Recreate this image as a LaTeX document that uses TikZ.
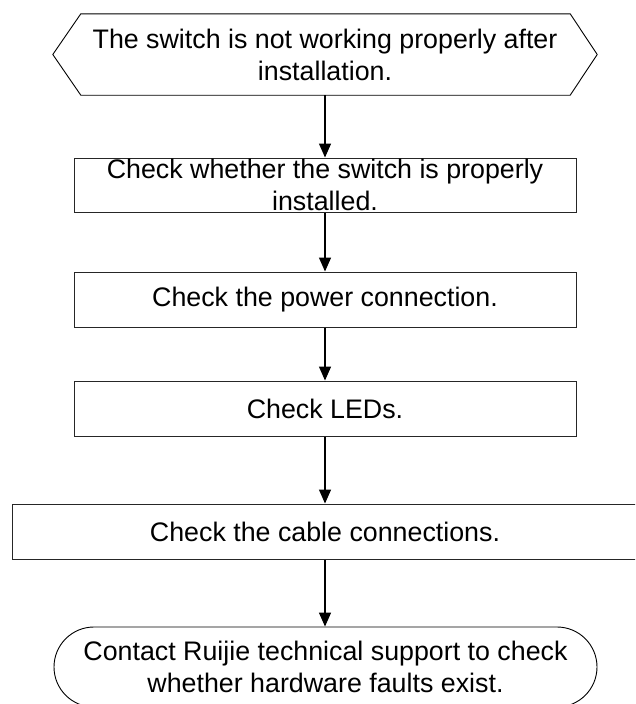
\documentclass[tikz,border=0pt]{standalone}
\usepackage{fontspec}
\setmainfont{Liberation Sans}
\usetikzlibrary{arrows.meta,shapes.misc}
\begin{document}
\begin{tikzpicture}[x=1pt,y=-1pt,
  txt/.style={align=center,inner sep=0pt,font=\fontsize{26.8}{32}\selectfont},
  stepbox/.style={txt,draw=black!85,line width=1pt,rectangle},
  termbox/.style={txt,draw=black,line width=0.9pt,rounded rectangle},
  flow/.style={line width=1.4pt,-{Triangle[width=12pt,length=14pt]}}]
\useasboundingbox (0,0) rectangle (635,704);
\clip (0,0) rectangle (635,704);
% start (hexagon)
\node[txt,minimum width=544pt,minimum height=81pt] (h) at (325,54.5)
  {The switch is not working properly after\\installation.};
\draw[black,line width=0.9pt] ([xshift=28pt]h.north west) -- ([xshift=-27pt]h.north east) -- (h.east)
  -- ([xshift=-27pt]h.south east) -- ([xshift=28pt]h.south west) -- (h.west) -- cycle;
\node[stepbox,minimum width=502pt,minimum height=54pt] (b2) at (325,185)
  {Check whether the switch is properly\\installed.};
\node[stepbox,minimum width=502pt,minimum height=55pt] (b3) at (325,299.5)
  {Check the power connection.};
\node[stepbox,minimum width=502pt,minimum height=55pt] (b4) at (325,408.5)
  {Check LEDs.};
\node[stepbox,minimum width=660pt,minimum height=55pt] (b5) at (342,531.5)
  {\hspace*{-34pt}Check the cable connections.};
\node[termbox,minimum width=543pt,minimum height=80pt] (t) at (325.5,667)
  {Contact Ruijie technical support to check\\whether hardware faults exist.};
\draw[flow] (h.south) -- (b2.north);
\draw[flow] (b2.south) -- (b3.north);
\draw[flow] (b3.south) -- (b4.north);
\draw[flow] (b4.south) -- (b4.south |- b5.north);
\draw[flow] (b4.south |- b5.south) -- (b4.south |- t.north);
\end{tikzpicture}
\end{document}
